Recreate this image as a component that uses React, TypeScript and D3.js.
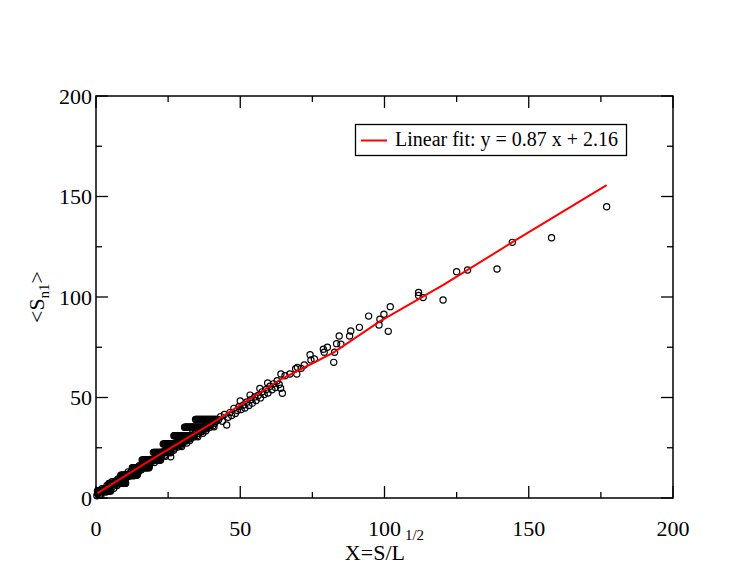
import React from 'react';
import * as d3 from 'd3';

const xTicks = [0, 50, 100, 150, 200];
const yTicks = [0, 50, 100, 150, 200];
const minorTicks = [25, 75, 125, 175];
const xTitle = 'X=S/L';
const xTitleSup = '1/2';
const yTitleMain = '<S';
const yTitleSub = 'n1';
const yTitleEnd = '>';
const legendLabel = 'Linear fit: y = 0.87 x + 2.16';

// horizontal streaks of points (same y, consecutive x)
const streakLevels = [39.1, 35.2, 31.0, 26.9, 22.7, 18.9, 15.1, 11.4, 7.3, 3.5];
const streakXs = [
  [34.5, 34.75, 35.0, 35.25, 35.5, 35.75, 36.0, 36.25, 36.5, 36.75, 37.0, 37.25, 37.5, 37.75, 38.0, 38.25, 38.5, 38.75, 39.0, 39.25, 39.5, 39.75, 40.0, 40.25, 40.5, 40.75, 41.0, 41.25, 41.5, 41.75, 42.0],
  [30.7, 30.95, 31.2, 31.45, 31.7, 31.95, 32.2, 32.45, 32.7, 32.95, 33.2, 33.45, 33.7, 33.95, 34.2, 34.45, 34.7, 34.95, 35.2, 35.45, 35.7, 35.95, 36.2, 36.45, 36.7, 36.95, 37.2],
  [27.0, 27.25, 27.5, 27.75, 28.0, 28.25, 28.5, 28.75, 29.0, 29.25, 29.5, 29.75, 30.0, 30.25, 30.5, 30.75, 31.0, 31.25, 31.5, 31.75, 32.0, 32.25, 32.5, 32.75, 33.0, 33.25, 33.5, 33.75, 34.0],
  [23.3, 23.55, 23.8, 24.05, 24.3, 24.55, 24.8, 25.05, 25.3, 25.55, 25.8, 26.05, 26.3, 26.55, 26.8, 27.05, 27.3, 27.55, 27.8, 28.05, 28.3, 28.55, 28.8, 29.1, 29.4],
  [19.9, 20.15, 20.4, 20.65, 20.9, 21.15, 21.4, 21.65, 21.9, 22.15, 22.4, 22.65, 22.9, 23.15, 23.4, 23.65, 23.9, 24.15, 24.4, 24.65, 24.9, 25.15, 25.4, 25.65, 25.9],
  [16.0, 16.25, 16.5, 16.75, 17.0, 17.25, 17.5, 17.75, 18.0, 18.25, 18.5, 18.75, 19.0, 19.25, 19.5, 19.75, 20.0, 20.25, 20.5, 20.75, 21.0, 21.25, 21.5, 21.75, 22.0, 22.2, 22.4],
  [12.6, 12.85, 13.1, 13.35, 13.6, 13.85, 14.1, 14.35, 14.6, 14.85, 15.1, 15.35, 15.6, 15.85, 16.1, 16.35, 16.6, 16.85, 17.1, 17.35, 17.6, 17.8, 18.0, 18.2, 18.4],
  [8.6, 8.85, 9.1, 9.35, 9.6, 9.85, 10.1, 10.35, 10.6, 10.85, 11.1, 11.35, 11.6, 11.85, 12.1, 12.35, 12.6, 12.85, 13.1, 13.35, 13.6, 13.8, 14.0, 14.15, 14.3],
  [4.5, 4.75, 5.0, 5.25, 5.5, 5.75, 6.0, 6.25, 6.5, 6.75, 7.0, 7.25, 7.5, 7.75, 8.0, 8.25, 8.5, 8.75, 9.0, 9.25, 9.5, 9.75, 10.0, 10.15, 10.3],
  [0.5, 0.75, 1.0, 1.25, 1.5, 1.75, 2.0, 2.25, 2.5, 2.75, 3.0, 3.25, 3.5, 3.75, 4.0, 4.25, 4.5, 4.8, 5.1],
];

// dense band along the trend
const bandPoints: [number, number][] = [
  [0.3, 1.1], [1.0, 3.5], [1.7, 1.3], [2.4, 4.1], [3.1, 3.9], [3.8, 6.3], [4.5, 4.2], [5.2, 6.8],
  [5.9, 5.9], [6.6, 8.3], [7.3, 6.2], [8.0, 9.0], [8.7, 8.8], [9.4, 11.2], [10.1, 9.1], [10.8, 11.7],
  [11.5, 10.8], [12.2, 13.2], [12.9, 11.0], [13.6, 13.8], [14.3, 13.6], [15.0, 16.1], [15.7, 14.0], [16.4, 16.6],
  [17.1, 15.7], [17.8, 18.1], [18.5, 15.9], [19.2, 18.7], [19.9, 18.5], [20.6, 20.9], [21.3, 18.8], [22.0, 21.4],
  [22.7, 20.6], [23.4, 23.0], [24.1, 20.8], [24.8, 23.6], [25.5, 23.4], [26.2, 25.8], [26.9, 23.7], [27.6, 26.3],
  [28.3, 25.4], [29.0, 27.8], [29.7, 25.6], [30.4, 28.4], [31.1, 28.3], [31.8, 30.7], [32.5, 28.6], [33.2, 31.2],
  [33.9, 30.3], [34.6, 32.7], [35.3, 30.5], [36.0, 33.3], [36.7, 33.1], [37.4, 35.5], [38.1, 33.4], [38.8, 36.1],
  [39.5, 35.2], [40.2, 37.6], [40.9, 35.4], [41.6, 38.2],
  [0.65, 2.7], [1.35, 1.8], [2.05, 4.6], [2.75, 3.9], [3.45, 3.0], [4.15, 6.0], [4.85, 5.2], [5.55, 8.1],
  [6.25, 7.5], [6.95, 6.6], [7.65, 9.5], [8.35, 8.8], [9.05, 7.9], [9.75, 10.9], [10.45, 10.1], [11.15, 13.0],
  [11.85, 12.4], [12.55, 11.5], [13.25, 14.3], [13.95, 13.6], [14.65, 12.8], [15.35, 15.8], [16.05, 15.0], [16.75, 17.9],
  [17.45, 17.3], [18.15, 16.4], [18.85, 19.2], [19.55, 18.5], [20.25, 17.6], [20.95, 20.6], [21.65, 19.8], [22.35, 22.7],
  [23.05, 22.2], [23.75, 21.3], [24.45, 24.1], [25.15, 23.4], [25.85, 22.5], [26.55, 25.5], [27.25, 24.7], [27.95, 27.6],
  [28.65, 27.0], [29.35, 26.1], [30.05, 28.9], [30.75, 28.3], [31.45, 27.4], [32.15, 30.4], [32.85, 29.6], [33.55, 32.5],
  [34.25, 31.9], [34.95, 31.0], [35.65, 33.8], [36.35, 33.1], [37.05, 32.2], [37.75, 35.2], [38.45, 34.5], [39.15, 37.4],
  [39.85, 36.8], [40.55, 35.9], [41.25, 38.7],
  [0.5, 2.2], [1.9, 2.6], [3.3, 4.6], [4.7, 5.9], [6.1, 6.9], [7.5, 7.6], [8.9, 9.9], [10.3, 10.7],
  [11.7, 11.6], [13.1, 12.6], [14.5, 14.5], [15.9, 15.4], [17.3, 16.8], [18.7, 17.4], [20.1, 19.4], [21.5, 20.4],
  [22.9, 21.7], [24.3, 22.6], [25.7, 24.6], [27.1, 25.5], [28.5, 26.8], [29.9, 27.2], [31.3, 29.5], [32.7, 30.0],
  [34.1, 31.2], [35.5, 32.2], [36.9, 34.3], [38.3, 34.9], [39.7, 36.4], [41.1, 37.2],
  [6.2, 4.8], [25.9, 20.5],
];

// sparser open circles at larger X
const scatterPoints: [number, number][] = [
  [42.5, 38.9], [43.2, 40.5], [43.8, 38.2], [44.5, 41.6], [45.3, 36.3], [45.8, 40.2], [46.4, 42.5], [47.0, 41.0],
  [47.8, 44.6], [48.3, 42.0], [49.0, 43.5], [49.6, 45.5], [50.0, 48.3], [50.3, 44.0], [51.0, 46.2], [51.6, 44.8],
  [52.3, 47.8], [53.0, 46.0], [53.4, 51.2], [53.6, 48.9], [54.2, 47.2], [55.0, 50.3], [55.5, 48.5], [56.2, 51.0],
  [56.8, 54.5], [57.0, 49.8], [57.6, 52.8], [58.3, 51.5], [59.0, 54.0], [59.5, 57.2], [59.6, 52.2], [60.3, 55.6],
  [61.0, 53.8], [61.5, 56.8], [62.2, 55.0], [62.8, 58.3], [63.5, 56.5], [64.0, 54.6], [64.6, 52.1],
  [64.1, 61.7], [65.5, 60.8], [67.2, 61.7], [69.6, 61.7], [69.2, 64.3], [69.8, 65.0], [71.1, 64.5], [72.2, 66.2],
  [74.2, 71.3], [74.5, 68.7], [75.7, 69.2], [78.8, 74.0], [79.1, 72.5], [80.2, 75.0], [82.4, 67.5], [82.7, 72.5],
  [83.4, 76.8], [84.9, 76.5], [84.3, 80.6], [87.9, 80.6], [88.3, 83.1], [91.3, 84.9], [94.5, 90.5], [98.1, 86.1],
  [98.4, 88.9], [99.8, 91.4], [101.3, 82.9], [102.0, 95.2], [111.8, 102.3], [111.8, 100.8], [113.4, 99.7],
  [120.3, 98.5], [125.0, 112.6], [128.8, 113.4], [139.0, 113.9], [144.3, 127.2], [157.9, 129.5], [177.0, 144.9],
];

// fitted curve
const fitLine: [number, number][] = [
  [0.5, 2.4], [20, 19.8], [40, 37.0], [63.6, 58.7], [72, 64.8], [82.3, 72.3], [98.5, 88.0], [102, 90.8],
  [120.4, 106.0], [144.6, 127.5], [177, 155.7],
];

const W = 747;
const H = 578;
const L = 96, R = 673, T = 96, B = 498;
const FONT = '"Liberation Serif", "DejaVu Serif", serif';

export default function App() {
  const x = d3.scaleLinear().domain([0, 200]).range([L, R]);
  const y = d3.scaleLinear().domain([0, 200]).range([B, T]);
  const line = d3.line<[number, number]>().x((d) => x(d[0])).y((d) => y(d[1]));

  const streakPoints: [number, number][] = [];
  streakXs.forEach((xs, i) => xs.forEach((v) => streakPoints.push([v, streakLevels[i]])));
  const allPoints = [...bandPoints, ...streakPoints, ...scatterPoints];

  const major = 12, minor = 6;

  return (
    <svg width={W} height={H} style={{ position: 'absolute', left: 0, top: 0, background: '#fff' }}
      fontFamily={FONT}>
      <rect x={0} y={0} width={W} height={H} fill="#fff" />
      <g fill="none" stroke="#000" strokeWidth={1.2}>
        {allPoints.map((p, i) => (
          <circle key={i} cx={x(p[0])} cy={y(p[1])} r={3.1} />
        ))}
      </g>
      <path d={line(fitLine) || ''} fill="none" stroke="#ff0000" strokeWidth={2} />
      <rect x={L} y={T} width={R - L} height={B - T} fill="none" stroke="#000" strokeWidth={1.5} />
      <g stroke="#000" strokeWidth={1.3}>
        {xTicks.map((t) => (
          <g key={'xt' + t}>
            <line x1={x(t)} x2={x(t)} y1={B} y2={B - major} />
            <line x1={x(t)} x2={x(t)} y1={T} y2={T + major} />
          </g>
        ))}
        {minorTicks.map((t) => (
          <g key={'xm' + t}>
            <line x1={x(t)} x2={x(t)} y1={B} y2={B - minor} />
            <line x1={x(t)} x2={x(t)} y1={T} y2={T + minor} />
          </g>
        ))}
        {yTicks.map((t) => (
          <g key={'yt' + t}>
            <line x1={L} x2={L + major} y1={y(t)} y2={y(t)} />
            <line x1={R} x2={R - major} y1={y(t)} y2={y(t)} />
          </g>
        ))}
        {minorTicks.map((t) => (
          <g key={'ym' + t}>
            <line x1={L} x2={L + minor} y1={y(t)} y2={y(t)} />
            <line x1={R} x2={R - minor} y1={y(t)} y2={y(t)} />
          </g>
        ))}
      </g>
      <g fontSize={22} fill="#000">
        {yTicks.map((t) => (
          <text key={'yl' + t} x={L - 4} y={y(t)} dy="0.35em" textAnchor="end">{t}</text>
        ))}
        {xTicks.map((t) => (
          <text key={'xl' + t} x={x(t)} y={536} textAnchor="middle">{t}</text>
        ))}
      </g>
      <text x={(L + R) / 2} y={560} textAnchor="middle" fontSize={22} fill="#000">
        {xTitle}
        <tspan dy={-20} fontSize={15}>{xTitleSup}</tspan>
      </text>
      <text transform={`translate(44,${(T + B) / 2}) rotate(-90)`} textAnchor="middle" fontSize={22} fill="#000">
        {yTitleMain}
        <tspan dy={5} fontSize={15}>{yTitleSub}</tspan>
        <tspan dy={-5}>{yTitleEnd}</tspan>
      </text>
      <rect x={355.5} y={124.5} width={271} height={31} fill="#fff" stroke="#000" strokeWidth={1.3} />
      <line x1={361} x2={387} y1={140.5} y2={140.5} stroke="#ff0000" strokeWidth={2} />
      <text x={395} y={146} fontSize={20} fill="#000">{legendLabel}</text>
    </svg>
  );
}
